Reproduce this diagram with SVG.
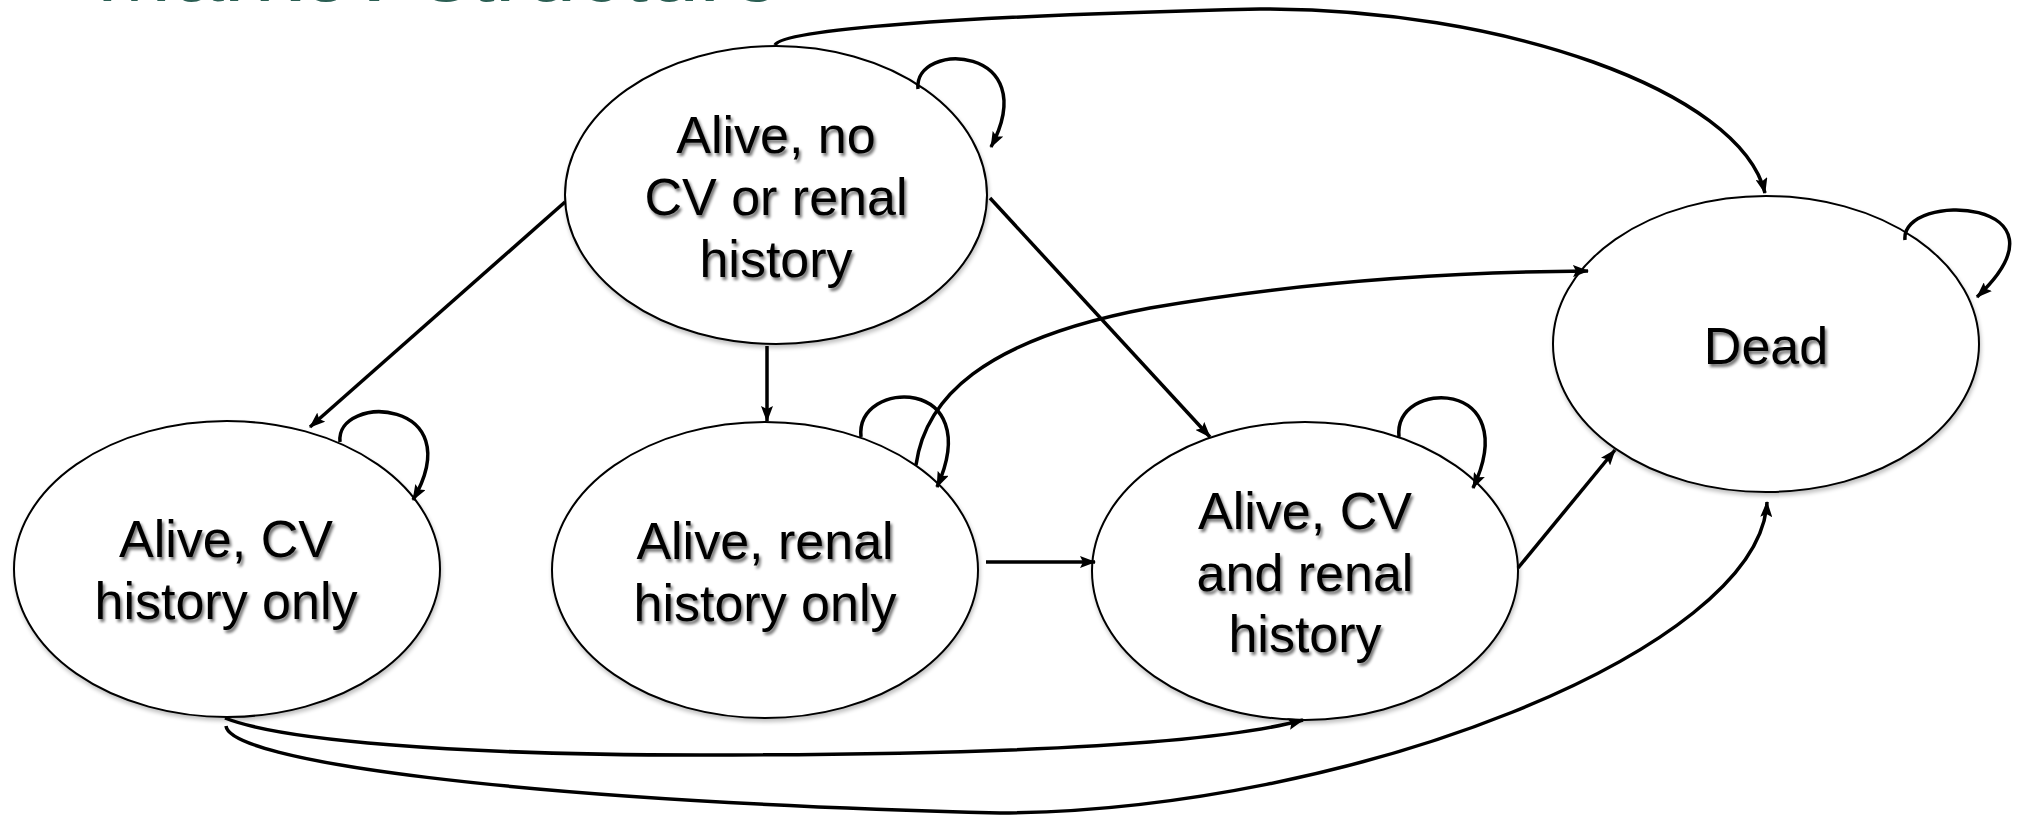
<svg xmlns="http://www.w3.org/2000/svg" width="2022" height="815" viewBox="0 0 2022 815">
<defs>
<style>
.node{fill:#fff;stroke:#000;stroke-width:2;filter:url(#eshadow)}
.lbl{font-family:"Liberation Sans",Arial,sans-serif;font-size:52px;fill:#000;text-anchor:middle;filter:url(#tshadow)}
.edge{fill:none;stroke:#000;stroke-width:3.5;marker-end:url(#arr)}
.title{font-family:"Liberation Sans",Arial,sans-serif;font-size:92px;fill:#2b5e53}
</style>
<marker id="arr" viewBox="0 0 16 12" refX="15" refY="6" markerWidth="16" markerHeight="12" markerUnits="userSpaceOnUse" orient="auto">
<path d="M0,0 L16,6 L0,12 L3,6 z" fill="#000"/>
</marker>
<filter id="tshadow" x="-10%" y="-20%" width="130%" height="150%">
<feGaussianBlur in="SourceAlpha" stdDeviation="1.8"/>
<feOffset dx="2" dy="3" result="b"/>
<feComponentTransfer><feFuncA type="linear" slope="0.55"/></feComponentTransfer>
<feMerge><feMergeNode/><feMergeNode in="SourceGraphic"/></feMerge>
</filter>
<filter id="eshadow" x="-5%" y="-5%" width="115%" height="115%">
<feGaussianBlur in="SourceAlpha" stdDeviation="2"/>
<feOffset dx="1" dy="3"/>
<feComponentTransfer><feFuncA type="linear" slope="0.25"/></feComponentTransfer>
<feMerge><feMergeNode/><feMergeNode in="SourceGraphic"/></feMerge>
</filter>
</defs>
<rect width="2022" height="815" fill="#fff"/>
<text class="title" x="96" y="1">Markov structure</text>

<g id="node-none">
<ellipse class="node" cx="776" cy="195" rx="211" ry="149"/>
<text class="lbl" x="776" y="153">Alive, no</text>
<text class="lbl" x="776" y="215">CV or renal</text>
<text class="lbl" x="776" y="277">history</text>
</g>
<g id="node-cv">
<ellipse class="node" cx="227" cy="569" rx="213" ry="148"/>
<text class="lbl" x="226" y="557">Alive, CV</text>
<text class="lbl" x="226" y="619">history only</text>
</g>
<g id="node-renal">
<ellipse class="node" cx="765" cy="570" rx="213" ry="148"/>
<text class="lbl" x="765" y="559">Alive, renal</text>
<text class="lbl" x="765" y="621">history only</text>
</g>
<g id="node-both">
<ellipse class="node" cx="1305" cy="571" rx="213" ry="149"/>
<text class="lbl" x="1305" y="529">Alive, CV</text>
<text class="lbl" x="1305" y="591">and renal</text>
<text class="lbl" x="1305" y="652">history</text>
</g>
<g id="node-dead">
<ellipse class="node" cx="1766" cy="344" rx="213" ry="148"/>
<text class="lbl" x="1766" y="364">Dead</text>
</g>

<g id="connectors">
<path class="edge" d="M775,45 C782,30 950,16 1260,9 C1500,8 1740,90 1765,193"/>
<path class="edge" d="M918,89 C913,40 1045,45 991,147"/>
<path class="edge" d="M565,202 L310,427"/>
<path class="edge" d="M767,346 L767,421"/>
<path class="edge" d="M990,198 L1210,437"/>
<path class="edge" d="M340,442 C335,393 472,398 413,500"/>
<path class="edge" d="M861,437 C855,378 987,376 937,487"/>
<path class="edge" d="M916,465 C925,400 980,340 1150,308 C1300,282 1450,272 1588,271"/>
<path class="edge" d="M986,562 L1095,562"/>
<path class="edge" d="M1399,437 C1393,378 1525,378 1473,488"/>
<path class="edge" d="M1518,568 L1615,450"/>
<path class="edge" d="M1905,240 C1900,190 2082,198 1977,297"/>
<path class="edge" d="M225,718 C280,740 450,755 700,755 C950,755 1200,748 1303,720"/>
<path class="edge" d="M226,726 C230,760 500,800 1000,813 C1350,811 1760,650 1767,502"/>
</g>
</svg>
